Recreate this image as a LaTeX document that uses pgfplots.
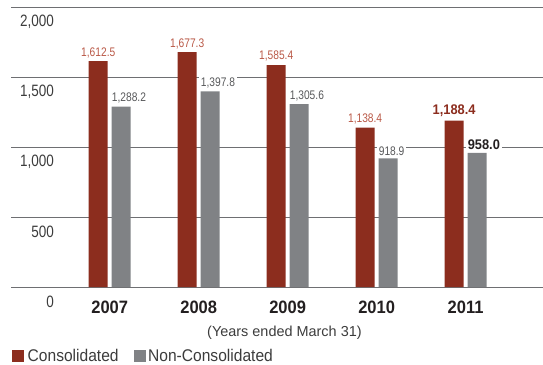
\documentclass[border=0pt]{standalone}
\usepackage{pgfplots}
\pgfplotsset{compat=1.18}
\usepackage{fontspec}
\setmainfont{Liberation Sans}
\newfontfamily\condf[FakeStretch=0.82]{Liberation Sans}
\newfontfamily\boldf[FakeStretch=0.92]{Liberation Sans Bold}
\newfontfamily\legf[FakeStretch=0.92]{Liberation Sans}
\definecolor{cred}{RGB}{140,45,30}
\definecolor{cgray}{RGB}{128,130,133}
\definecolor{lred}{RGB}{185,88,70}
\definecolor{lgray}{RGB}{88,89,91}
\definecolor{gridc}{RGB}{110,111,114}
\definecolor{tickc}{RGB}{60,60,60}
\definecolor{yearc}{RGB}{35,31,32}
\newcommand\hlr[1]{{\boldf\fontsize{14}{14}\selectfont\color{cred}#1}}
\newcommand\hlk[1]{{\boldf\fontsize{14}{14}\selectfont\color{yearc}#1}}
\begin{document}
\begin{tikzpicture}
\path[use as bounding box] (-11bp,-78bp) rectangle (532bp,287bp);
\begin{axis}[
  at={(0,0)}, anchor=south west,
  scale only axis, width=532bp, height=280bp,
  xmin=-1.11, xmax=4.87, ymin=0, ymax=2000, clip=false,
  enlarge x limits=false, enlarge y limits=false,
  axis line style={draw=none}, major tick length=0pt,
  ytick={0,500,1000,1500,2000},
  yticklabels={0,500,{1,000},{1,500},{2,000}},
  ymajorgrids, grid style={color=gridc, line width=0.9bp},
  yticklabel style={font=\condf\fontsize{16.5}{16.5}\selectfont, text=tickc, anchor=east, inner sep=0pt, xshift=43bp, yshift=-14.5bp},
  xtick={0,1,2,3,4},
  xticklabels={2007,2008,2009,2010,2011},
  xticklabel style={font=\boldf\fontsize{18}{18}\selectfont, text=yearc, anchor=center, inner sep=0pt, yshift=-20bp},
  ybar=4bp, bar width=19bp,
  point meta=explicit symbolic,
  nodes near coords={\pgfplotspointmeta},
  legend image code/.code={\fill[#1] (0bp,-6bp) rectangle (12bp,6bp);},
  legend style={at={(rel axis cs:0,0)}, anchor=west, xshift=1bp, yshift=-69bp,
    draw=none, fill=none, inner sep=0pt, legend columns=-1,
    font=\legf\fontsize{17}{17}\selectfont, text=tickc},
]
\addplot[fill=cred, draw=none,
  every node near coord/.append style={font=\condf\fontsize{12.5}{12.5}\selectfont, text=lred}]
  coordinates {(0,1612.5) [1,612.5] (1,1677.3) [1,677.3] (2,1585.4) [1,585.4] (3,1138.4) [1,138.4] (4,1188.4) [\hlr{1,188.4}]};
\addlegendentry{\hspace{1.5bp}Consolidated\rule{13bp}{0pt}}
\addplot[fill=cgray, draw=none,
  every node near coord/.append style={font=\condf\fontsize{12.5}{12.5}\selectfont, text=lgray, anchor=south west, fill=white, inner xsep=2bp, inner ysep=1bp, xshift=-11.5bp, yshift=2bp}]
  coordinates {(0,1288.2) [1,288.2] (1,1397.8) [1,397.8] (2,1305.6) [1,305.6] (3,918.9) [918.9] (4,958.0) [\hlk{958.0}]};
\addlegendentry{\hspace{0.5bp}Non-Consolidated}
\node[font=\fontsize{14.5}{14.5}\selectfont, text=tickc] at (rel axis cs:0.514,0) [yshift=-46bp] {(Years ended March 31)};
\end{axis}
\end{tikzpicture}
\end{document}
